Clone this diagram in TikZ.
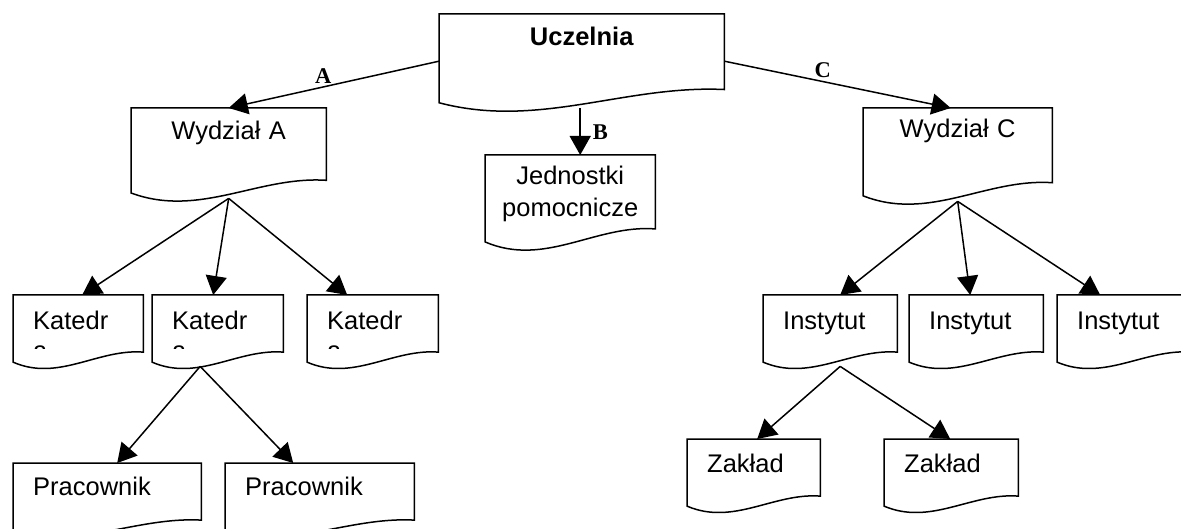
\documentclass[tikz,border=0pt]{standalone}
\usepackage{fontspec}
\setmainfont{Liberation Sans}
\newfontfamily\lserif{Liberation Serif}
\usetikzlibrary{arrows.meta,calc}

\tikzset{
  docbox/.style={rectangle, anchor=north west, inner ysep=0pt,
    font=\fontsize{25.5}{32}\selectfont},
  leftbox/.style n args={3}{docbox, inner xsep=20pt, text width=#1,
    align=left, text height=#2, text depth=#3},
  ctrbox/.style n args={3}{docbox, inner xsep=0pt, text width=#1,
    align=center, text height=#2, text depth=#3},
  docline/.style={draw=black, line width=1.5pt, line join=miter},
  conn/.style={draw=black, line width=1.5pt,
    -{Triangle[length=19pt,width=21pt]}},
  edgelbl/.style={font=\lserif\bfseries\fontsize{22.5}{22.5}\selectfont,
    inner sep=3pt},
}

\begin{document}
\begin{tikzpicture}[x=1pt, y=-1pt]
\useasboundingbox (0,0) rectangle (1181,529);

% ---- top level
\node[ctrbox={285pt}{31pt}{63pt}, font=\bfseries\fontsize{25.5}{32}\selectfont]
  (u) at (439,14) {Uczelnia};

% ---- faculties and auxiliary units
\node[ctrbox={195pt}{31pt}{59pt}] (wa) at (131,108) {Wydział A};
\node[ctrbox={170pt}{29pt}{63pt}] (j)  at (485,155) {Jednostki\\pomocnicze};
\node[ctrbox={189pt}{29pt}{64pt}] (wc) at (863,108) {Wydział C};

% ---- chairs (second line of the wrapped word is cut by the box edge)
\begin{scope}
  \clip (0,295) rectangle (1181,348.5);
  \node[leftbox={90pt}{34pt}{37pt}] (k1) at (13,295)  {Katedr\\[-2pt]a};
  \node[leftbox={91pt}{34pt}{37pt}] (k2) at (152,295) {Katedr\\[-2pt]a};
  \node[leftbox={91pt}{34pt}{37pt}] (k3) at (307,295) {Katedr\\[-2pt]a};
\end{scope}

% ---- institutes
\node[leftbox={94pt}{34pt}{37pt}] (i1) at (763,295)  {Instytut};
\node[leftbox={94pt}{34pt}{37pt}] (i2) at (909,295)  {Instytut};
\node[leftbox={94pt}{34pt}{37pt}] (i3) at (1057,295) {Instytut};

% ---- departments and staff
\node[leftbox={93pt}{33pt}{38pt}] (z1) at (687,439) {Zakład};
\node[leftbox={94pt}{33pt}{38pt}] (z2) at (884,439) {Zakład};
\node[leftbox={148pt}{32pt}{39pt}] (p1) at (13,463)  {Pracownik};
\node[leftbox={149pt}{32pt}{39pt}] (p2) at (225,463) {Pracownik};

% ---- document outlines with a wavy lower edge
\foreach \docname in {u,wa,j,wc,k1,k2,k3,i1,i2,i3,z1,z2,p1,p2}{
  \draw[docline] let \p1=(\docname.north west), \p2=(\docname.south east),
      \n1={\y1-\y2}, \n2={\x2-\x1} in
    (\x1,\y1) -- (\x2,\y1) -- (\x2,{\y2+0.2*\n1})
    .. controls ({\x1+0.65*\n2},{\y2+0.25*\n1}) and ({\x1+0.35*\n2},{\y2-0.22*\n1})
    .. (\x1,{\y2+0.06*\n1}) -- cycle;
}

% ---- connectors
\draw[conn] (u.west) -- node[edgelbl, pos=0.55, above] (la) {A} (wa.north);
\draw[conn] (u.east) -- node[edgelbl, pos=0.434, above] (lc) {C}
  ([xshift=-7pt]wc.north);
\coordinate (ub) at ([xshift=-1.5pt]u.south);
\draw[conn] (ub) -- node[edgelbl, midway, right, xshift=9pt] (lb) {B} (ub |- j.north);

\draw[conn] (wa.south) -- ([xshift=4pt]k1.north);
\draw[conn] (wa.south) -- ([xshift=-4.5pt]k2.north);
\draw[conn] (wa.south) -- ([xshift=-25.5pt]k3.north);

\draw[conn] (wc.south) -- ([xshift=10pt]i1.north);
\draw[conn] (wc.south) -- ([xshift=-6pt]i2.north);
\draw[conn] (wc.south) -- ([xshift=-24pt]i3.north);

\draw[conn] ([xshift=-17.5pt]k2.south) -- ([xshift=10pt]p1.north);
\draw[conn] ([xshift=-17.5pt]k2.south) -- ([xshift=-26.5pt]p2.north);

\draw[conn] ([xshift=10pt]i1.south) -- ([xshift=3.5pt]z1.north);
\draw[conn] ([xshift=10pt]i1.south) -- ([xshift=-1pt]z2.north);
\end{tikzpicture}
\end{document}
